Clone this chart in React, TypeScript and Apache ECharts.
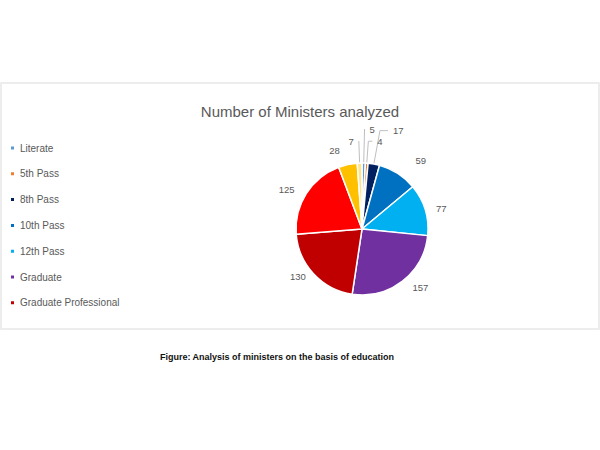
import React, { useEffect, useRef } from 'react'
import * as echarts from 'echarts'

// slices in clockwise order from 12 o'clock
const categories = [
  'Literate',
  '5th Pass',
  '8th Pass',
  '10th Pass',
  '12th Pass',
  'Graduate',
  'Graduate Professional',
  'Post Graduate',
  'Doctorate',
  'Others',
]
const values = [5, 4, 17, 59, 77, 157, 130, 125, 28, 7]
const colors = [
  '#5B9BD5',
  '#ED7D31',
  '#002060',
  '#0070C0',
  '#00B0F0',
  '#7030A0',
  '#C00000',
  '#FF0000',
  '#FFC000',
  '#FFE38A',
]
// only the first seven fit in the legend box
const legendNames = categories.slice(0, 7)

const FONT = '"Liberation Sans", Arial, sans-serif'

// leader line [length, length2, visible] per slice, to spread the small labels like Excel did
const leader: Record<string, [number, number, boolean]> = {
  Literate: [34, 0, true],
  '5th Pass': [22, 4, true],
  '8th Pass': [34, 8, true],
  '10th Pass': [16, 4, false],
  '12th Pass': [4, 2, false],
  Graduate: [8, 0, false],
  'Graduate Professional': [4, 0, false],
  'Post Graduate': [8, 0, false],
  Doctorate: [14, 0, false],
  Others: [22, 0, true],
}

const App: React.FC = () => {
  const chartRef = useRef<HTMLDivElement>(null)

  useEffect(() => {
    if (!chartRef.current) return
    const chart = echarts.init(chartRef.current, undefined, { renderer: 'svg' })

    const data = categories.map((name, i) => {
      const [len, len2, show] = leader[name]
      return {
        name,
        value: values[i],
        itemStyle: { color: colors[i] },
        labelLine: { show, length: len, length2: len2 },
      }
    })

    const option: echarts.EChartsOption = {
      animation: false,
      backgroundColor: '#fff',
      title: {
        text: 'Number of Ministers analyzed',
        left: 'center',
        top: 99,
        textStyle: {
          fontFamily: FONT,
          fontSize: 15,
          fontWeight: 'normal',
          color: '#595959',
        },
      },
      legend: {
        data: legendNames,
        orient: 'vertical',
        left: 4,
        top: 137,
        itemGap: 13.8,
        itemWidth: 5,
        itemHeight: 5,
        icon: 'rect',
        textStyle: {
          fontFamily: FONT,
          fontSize: 10,
          lineHeight: 12,
          color: '#595959',
        },
      },
      graphic: [
        {
          type: 'rect',
          shape: { x: 1, y: 83, width: 598, height: 246 },
          style: { fill: 'none', stroke: '#e8e8e8', lineWidth: 1.5 },
          silent: true,
        },
        {
          type: 'text',
          x: 277,
          y: 357,
          style: {
            text: 'Figure: Analysis of ministers on the basis of education',
            fontFamily: FONT,
            fontSize: 9,
            fontWeight: 'bold',
            fill: '#111',
            align: 'center',
            verticalAlign: 'middle',
          },
        },
      ],
      series: [
        {
          type: 'pie',
          center: [362, 229],
          radius: 66,
          startAngle: 90,
          clockwise: true,
          data,
          itemStyle: { borderColor: '#fff', borderWidth: 1.5 },
          label: {
            show: true,
            position: 'outside',
            formatter: '{c}',
            fontFamily: FONT,
            fontSize: 9.5,
            color: '#595959',
          },
          labelLine: {
            lineStyle: { color: '#bfbfbf', width: 1 },
          },
          avoidLabelOverlap: false,
        },
      ],
    }

    chart.setOption(option)
    return () => {
      chart.dispose()
    }
  }, [])

  return (
    <div
      ref={chartRef}
      style={{ position: 'fixed', left: 0, top: 0, width: 600, height: 450 }}
    />
  )
}

export default App
